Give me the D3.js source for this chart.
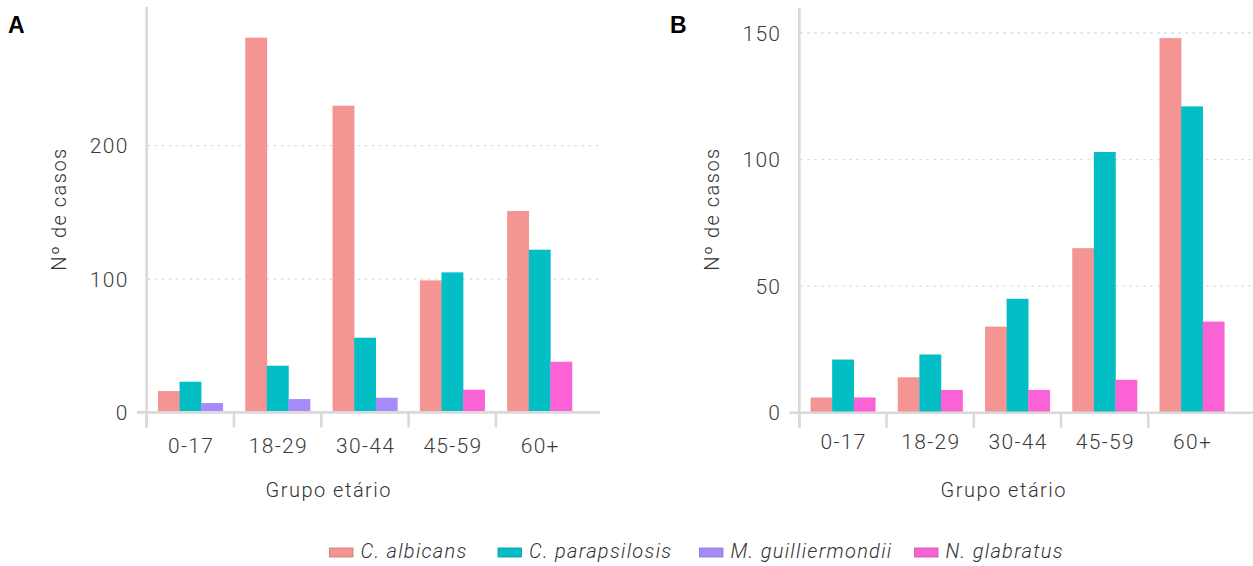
<!DOCTYPE html>
<html>
<head>
<meta charset="utf-8">
<script src="https://cdn.jsdelivr.net/npm/d3@7/dist/d3.min.js"></script>
<style>
  html, body { margin: 0; padding: 0; background: #fff; }
  svg { display: block; }
  .tick-label { font-family: Roboto, sans-serif; font-weight: 300; font-size: 21px; fill: #3b3b3b; letter-spacing: 1.3px; }
  .axis-title { font-family: Roboto, sans-serif; font-weight: 300; font-size: 20px; fill: #333; letter-spacing: 1.5px; }
  .panel-tag { font-family: "Liberation Sans", Arial, sans-serif; font-weight: bold; font-size: 23px; fill: #000; }
  .legend-label { font-family: Roboto, sans-serif; font-weight: 300; font-style: italic; font-size: 20px; fill: #333; letter-spacing: 1.3px; }
</style>
</head>
<body>
<svg id="chart" width="1253" height="566"></svg>
<script>
// Age groups on the x axis
const categories = ["0-17", "18-29", "30-44", "45-59", "60+"];
const species = ["C. albicans", "C. parapsilosis", "M. guilliermondii", "N. glabratus"];
const speciesColors = ["#F49593", "#03BEC4", "#A78BFA", "#FA62D6"];

// Panel A: number of cases per age group
const albicansA = [16, 281, 230, 99, 151];
const parapsilosisA = [23, 35, 56, 105, 122];
const guilliermondiiA = [7, 10, 11, null, null];
const glabratusA = [null, null, null, 17, 38];
const yTicksA = [0, 100, 200];

// Panel B: number of cases per age group
const albicansB = [6, 14, 34, 65, 148];
const parapsilosisB = [21, 23, 45, 103, 121];
const guilliermondiiB = [null, null, null, null, null];
const glabratusB = [6, 9, 9, 13, 36];
const yTicksB = [0, 50, 100, 150];

const svg = d3.select("#chart");
const color = d3.scaleOrdinal().domain(species).range(speciesColors);

function drawPanel(opts) {
  const { series, yMax, yTicks, left, right, bandStart, bandEnd, top, zero, tag, tagX, yTitleX, xTitleX, labelBaseline } = opts;
  const g = svg.append("g");

  const x = d3.scaleBand().domain(categories).range([bandStart, bandEnd]).padding(0);
  const y = d3.scaleLinear().domain([0, yMax]).range([zero, top]);
  const groupWidth = x.bandwidth() * 0.742;

  // dotted grid lines
  g.selectAll("line.grid").data(yTicks.filter(v => v > 0)).join("line")
    .attr("class", "grid")
    .attr("x1", bandStart + 1).attr("x2", right)
    .attr("y1", d => y(d)).attr("y2", d => y(d))
    .attr("stroke", "#d9d9d9").attr("stroke-width", 1.3)
    .attr("stroke-dasharray", "2.5,4.5");

  // grouped bars: each group dodges only the species that are present
  categories.forEach((cat, i) => {
    const present = species
      .map((s, k) => ({ s, v: series[k][i] }))
      .filter(d => d.v != null);
    const cx = x(cat) + x.bandwidth() / 2;
    const inner = d3.scaleBand().domain(present.map(d => d.s))
      .range([cx - groupWidth / 2, cx + groupWidth / 2]).padding(0);
    g.selectAll(null).data(present).join("rect")
      .attr("x", d => inner(d.s))
      .attr("width", inner.bandwidth() + 0.3)
      .attr("y", d => y(d.v))
      .attr("height", d => y(0) - y(d.v))
      .attr("fill", d => color(d.s));
  });

  // x axis line and category boundary ticks
  g.append("line")
    .attr("x1", left - 10).attr("x2", right)
    .attr("y1", zero).attr("y2", zero)
    .attr("stroke", "#d9d9d9").attr("stroke-width", 2.6);
  g.selectAll("line.xtick").data(categories).join("line")
    .attr("class", "xtick")
    .attr("x1", d => x(d)).attr("x2", d => x(d))
    .attr("y1", zero).attr("y2", zero + 15)
    .attr("stroke", "#d9d9d9").attr("stroke-width", 2.6);

  // y axis line
  g.append("line")
    .attr("x1", bandStart).attr("x2", bandStart)
    .attr("y1", top).attr("y2", zero + 15)
    .attr("stroke", "#d9d9d9").attr("stroke-width", 2.6);

  // y tick labels
  g.selectAll("text.ylab").data(yTicks).join("text")
    .attr("class", "tick-label")
    .attr("x", bandStart - 18)
    .attr("y", d => y(d))
    .attr("dy", "0.36em")
    .attr("text-anchor", "end")
    .text(d => d);

  // x tick labels
  g.selectAll("text.xlab").data(categories).join("text")
    .attr("class", "tick-label")
    .attr("x", d => x(d) + x.bandwidth() / 2 + 0.7)
    .attr("y", labelBaseline)
    .attr("text-anchor", "middle")
    .text(d => d);

  // axis titles
  g.append("text").attr("class", "axis-title")
    .attr("x", xTitleX + 0.8).attr("y", 497)
    .attr("text-anchor", "middle")
    .text("Grupo etário");
  g.append("text").attr("class", "axis-title")
    .attr("transform", `translate(${yTitleX},${209}) rotate(-90)`)
    .attr("text-anchor", "middle")
    .attr("dy", "0.35em")
    .text("Nº de casos");

  // panel tag
  g.append("text").attr("class", "panel-tag")
    .attr("x", tagX).attr("y", 33)
    .text(tag);
}

drawPanel({
  series: [albicansA, parapsilosisA, guilliermondiiA, glabratusA],
  yMax: 304, yTicks: yTicksA,
  left: 147, right: 600, bandStart: 146.7, bandEnd: 583.2,
  top: 7, zero: 412.4, tag: "A", tagX: 8,
  yTitleX: 59, xTitleX: 328, labelBaseline: 453
});

drawPanel({
  series: [albicansB, parapsilosisB, guilliermondiiB, glabratusB],
  yMax: 160, yTicks: yTicksB,
  left: 799.3, right: 1253, bandStart: 799.3, bandEnd: 1235.5,
  top: 7.7, zero: 412.7, tag: "B", tagX: 670,
  yTitleX: 712, xTitleX: 1003, labelBaseline: 449
});

// legend
const legendX = [329.5, 498, 699.5, 914.5];
const legend = svg.append("g");
species.forEach((s, i) => {
  legend.append("rect")
    .attr("x", legendX[i]).attr("y", 548)
    .attr("width", 23.5).attr("height", 9)
    .attr("fill", color(s))
    .attr("stroke", d3.color(color(s)).darker(0.6))
    .attr("stroke-width", 0.8);
  legend.append("text").attr("class", "legend-label")
    .attr("x", legendX[i] + 31).attr("y", 558)
    .text(s);
});
</script>
</body>
</html>
